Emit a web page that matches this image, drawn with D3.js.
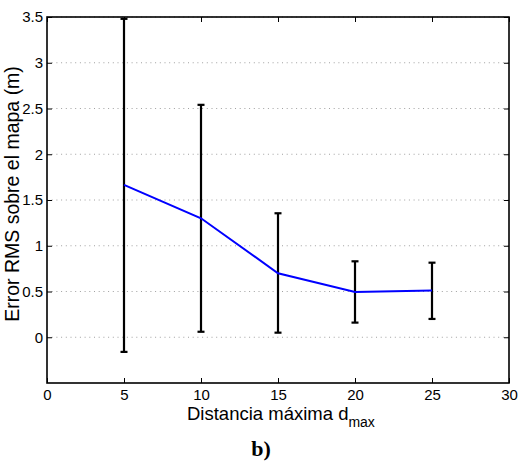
<!DOCTYPE html>
<html>
<head>
<meta charset="utf-8">
<script src="https://cdn.jsdelivr.net/npm/d3@7"></script>
<style>
  body { margin: 0; background: #fff; }
  text { font-family: "Liberation Sans", Arial, sans-serif; fill: #000; }
</style>
</head>
<body>
<svg id="chart"></svg>
<script>
// data
const dmax = [5, 10, 15, 20, 25];
const rmsMean = [1.665, 1.30, 0.70, 0.495, 0.51];
const rmsLow = [-0.16, 0.06, 0.05, 0.16, 0.20];
const rmsHigh = [3.48, 2.54, 1.355, 0.83, 0.815];
const xTicks = [0, 5, 10, 15, 20, 25, 30];
const yTicks = [0, 0.5, 1, 1.5, 2, 2.5, 3, 3.5];

const W = 518, H = 466;
const margin = {top: 17, right: 9, bottom: 83, left: 47},
    width = W - margin.left - margin.right,
    height = H - margin.top - margin.bottom;

const svg = d3.select("#chart")
    .attr("width", W)
    .attr("height", H);

const g = svg.append("g")
    .attr("transform", `translate(${margin.left},${margin.top})`);

const x = d3.scaleLinear().domain([0, 30]).range([0, width]);
const y = d3.scaleLinear().domain([-0.5, 3.5]).range([height, 0]);

// dotted horizontal grid
g.selectAll(".grid")
    .data(yTicks)
    .enter().append("line")
    .attr("x1", 0).attr("x2", width)
    .attr("y1", d => y(d)).attr("y2", d => y(d))
    .attr("stroke", "#a0a0a0")
    .attr("stroke-width", 1)
    .attr("stroke-dasharray", "1,3.7");

// axes, ticks pointing inward
const tickLen = 5;
const bottomAxis = g.append("g")
    .attr("transform", `translate(0,${height})`)
    .call(d3.axisBottom(x).tickValues(xTicks).tickSize(-tickLen).tickPadding(6).tickFormat(d3.format("d")));
const topAxis = g.append("g")
    .call(d3.axisTop(x).tickValues(xTicks).tickSize(-tickLen).tickFormat(""));
const leftAxis = g.append("g")
    .call(d3.axisLeft(y).tickValues(yTicks).tickSize(-tickLen).tickPadding(4).tickFormat(d => d));
const rightAxis = g.append("g")
    .attr("transform", `translate(${width},0)`)
    .call(d3.axisRight(y).tickValues(yTicks).tickSize(-tickLen).tickFormat(""));

[bottomAxis, topAxis, leftAxis, rightAxis].forEach(a => {
    a.select(".domain").remove();
    a.selectAll(".tick line").attr("stroke", "#000").attr("stroke-width", 1);
    a.selectAll("text").attr("font-size", 15).attr("fill", "#000")
        .style("font-family", "'Liberation Sans', Arial, sans-serif");
});

// box
g.append("rect")
    .attr("width", width).attr("height", height)
    .attr("fill", "none").attr("stroke", "#000").attr("stroke-width", 1.6);

// error bars
const bars = dmax.map((d, i) => ({x: d, lo: rmsLow[i], hi: rmsHigh[i]}));
const capW = 3.5;
const eb = g.selectAll(".errbar").data(bars).enter().append("g")
    .attr("stroke", "#000").attr("stroke-width", 2.2);
eb.append("line")
    .attr("x1", d => x(d.x)).attr("x2", d => x(d.x))
    .attr("y1", d => y(d.lo)).attr("y2", d => y(d.hi));
eb.append("line")
    .attr("x1", d => x(d.x) - capW).attr("x2", d => x(d.x) + capW)
    .attr("y1", d => y(d.lo)).attr("y2", d => y(d.lo));
eb.append("line")
    .attr("x1", d => x(d.x) - capW).attr("x2", d => x(d.x) + capW)
    .attr("y1", d => y(d.hi)).attr("y2", d => y(d.hi));

// mean line
g.append("path")
    .datum(dmax.map((d, i) => [d, rmsMean[i]]))
    .attr("fill", "none")
    .attr("stroke", "#0000ff")
    .attr("stroke-width", 2)
    .attr("d", d3.line().x(d => x(d[0])).y(d => y(d[1])));

// x label with subscript
const xl = svg.append("text")
    .attr("x", 187)
    .attr("y", 420)
    .attr("font-size", 18.5);
xl.append("tspan").text("Distancia máxima d");
xl.append("tspan").attr("font-size", 14).attr("dy", 7).text("max");

// y label
svg.append("text")
    .attr("transform", "translate(19,194) rotate(-90)")
    .attr("text-anchor", "middle")
    .attr("font-size", 19.5)
    .text("Error RMS sobre el mapa (m)");

// panel caption
svg.append("text")
    .attr("x", 261)
    .attr("y", 456)
    .attr("text-anchor", "middle")
    .attr("font-size", 22)
    .attr("font-weight", "bold")
    .style("font-family", "'Liberation Serif', 'Times New Roman', serif")
    .text("b)");
</script>
</body>
</html>
